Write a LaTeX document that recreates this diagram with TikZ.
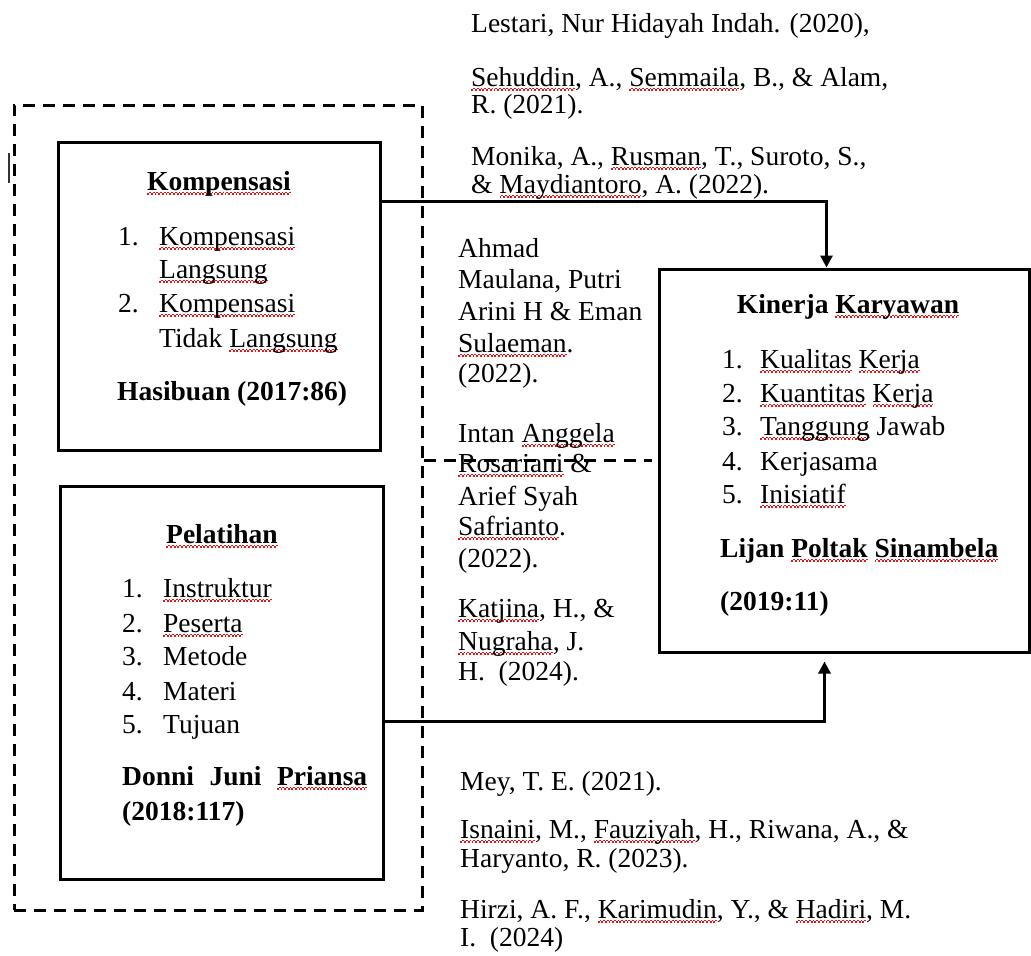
\documentclass[tikz,border=0pt]{standalone}
\usepackage{fontspec}
\setmainfont{Liberation Serif}
\usetikzlibrary{arrows.meta}
\definecolor{waveColor}{RGB}{230,20,20}
\tikzstyle{plan} = [x = 1pt, y = -1pt]
\tikzstyle{boxStyle} = [draw=black, line width=3pt, inner sep=0pt]
\tikzstyle{groupStyle} = [draw=black, line width=3pt, dash pattern=on 12pt off 8pt, inner sep=0pt]
\tikzstyle{bodyText} = [font=\fontsize{27.5}{30}\selectfont, inner sep=0pt, anchor=base west]
\tikzstyle{boldText} = [font=\fontsize{27.5}{30}\selectfont\bfseries, inner sep=0pt, anchor=base west]
\tikzstyle{titleText} = [font=\fontsize{27.5}{30}\selectfont\bfseries, inner sep=0pt, anchor=base]
\tikzstyle{arrowLine} = [line width=3pt, -{Triangle[length=12pt,width=12pt]}]
\tikzstyle{dashLine} = [line width=3pt, dash pattern=on 12pt off 8pt]
\newsavebox{\waveWord}
\newcommand{\waveMark}{\hbox{\rule{1.8pt}{1.1pt}\rule[1.6pt]{1.8pt}{1.1pt}}}
\newcommand{\spellWave}[1]{\sbox{\waveWord}{#1}\rlap{\color{waveColor}\lower4.5pt\hbox to \wd\waveWord{\xleaders\waveMark\hfill}}\usebox{\waveWord}}
\begin{document}
\begin{tikzpicture}[plan]
\useasboundingbox (0,0) rectangle (1031,956);
% boxes
\node[groupStyle, minimum width=408pt, minimum height=805pt] (group) at (218,507.5) {};
\node[boxStyle, minimum width=322pt, minimum height=308pt] (komp) at (219,296) {};
\node[boxStyle, minimum width=323pt, minimum height=393pt] (pel) at (221.5,682.5) {};
\node[boxStyle, minimum width=370pt, minimum height=383pt] (kin) at (844,460.5) {};
\draw[line width=1.2pt, black!80] (9,153) -- (9,183);

% Kompensasi
\node[titleText] (kompTitle) at (219,190) {\spellWave{Kompensasi}};
\node[bodyText] (kompNum1) at (118,245) {1.};
\node[bodyText] (kompItem1) at (159,245) {\spellWave{Kompensasi}};
\node[bodyText] (kompItem1b) at (159,278) {\spellWave{Langsung}};
\node[bodyText] (kompNum2) at (118,312) {2.};
\node[bodyText] (kompItem2) at (159,312) {\spellWave{Kompensasi}};
\node[bodyText] (kompItem2b) at (159,347) {Tidak \spellWave{Langsung}};
\node[boldText] (kompSource) at (117,400) {Hasibuan (2017:86)};

% Pelatihan
\node[titleText] (pelTitle) at (222,543) {\spellWave{Pelatihan}};
\foreach \num/\ypos/\entry in {1/597/\spellWave{Instruktur}, 2/632/\spellWave{Peserta}, 3/665/Metode, 4/700/Materi, 5/733/Tujuan} {
  \node[bodyText] (pelNum\num) at (122,\ypos) {\num.};
  \node[bodyText] (pelItem\num) at (163,\ypos) {\entry};
}
\node[boldText] (pelSource) at (122,785) {\makebox[245pt][s]{Donni Juni \spellWave{Priansa}}};
\node[boldText] (pelYear) at (122,820) {(2018:117)};

% Kinerja Karyawan
\node[titleText] (kinTitle) at (848,313) {Kinerja \spellWave{Karyawan}};
\foreach \num/\ypos/\entry in {1/368/{\spellWave{Kualitas} \spellWave{Kerja}}, 2/402/{\spellWave{Kuantitas} \spellWave{Kerja}}, 3/435/{\spellWave{Tanggung} Jawab}, 4/470/Kerjasama, 5/503/\spellWave{Inisiatif}} {
  \node[bodyText] (kinNum\num) at (722,\ypos) {\num.};
  \node[bodyText] (kinItem\num) at (760,\ypos) {\entry};
}
\node[boldText] (kinSource) at (720,557) {Lijan \spellWave{Poltak} \spellWave{Sinambela}};
\node[boldText] (kinYear) at (720,610) {(2019:11)};

% references
\foreach \num/\ypos/\entry in {1/32/{Lestari, Nur Hidayah Indah. (2020),}, 2/86/{\spellWave{Sehuddin}, A., \spellWave{Semmaila}, B., \& Alam,}, 3/113/{R. (2021).}, 4/165/{Monika, A., \spellWave{Rusman}, T., Suroto, S.,}, 5/193/{\& \spellWave{Maydiantoro}, A. (2022).}} {
  \node[bodyText] (refTop\num) at (471,\ypos) {\entry};
}
\foreach \num/\ypos/\entry in {1/257/Ahmad, 2/288/{Maulana, Putri}, 3/320/{Arini H \& Eman}, 4/352/{\spellWave{Sulaeman}.}, 5/382/{(2022).}, 6/442/{Intan \spellWave{Anggela}}, 7/472/{\spellWave{Rosariani} \&}, 8/505/{Arief Syah}, 9/535/{\spellWave{Safrianto}.}, 10/567/{(2022).}, 11/617/{\spellWave{Katjina}, H., \&}, 12/650/{\spellWave{Nugraha}, J.}, 13/680/{H.\ \ (2024).}} {
  \node[bodyText] (refMid\num) at (458,\ypos) {\entry};
}
\foreach \num/\ypos/\entry in {1/790/{Mey, T. E. (2021).}, 2/838/{\spellWave{Isnaini}, M., \spellWave{Fauziyah}, H., Riwana, A., \&}, 3/867/{Haryanto, R. (2023).}, 4/918/{Hirzi, A. F., \spellWave{Karimudin}, Y., \& \spellWave{Hadiri}, M.}, 5/946/{I.\ \ (2024)}} {
  \node[bodyText] (refBot\num) at (460,\ypos) {\entry};
}

% connectors
\draw[arrowLine] ([yshift=-61pt]komp.north east) -| ([xshift=169pt]kin.north west);
\draw[arrowLine] ([yshift=-237pt]pel.north east) -| ([xshift=167pt,yshift=-8pt]kin.south west);
\draw[dashLine] (group.east |- kin.west) -- ([xshift=-6pt]kin.west);
\end{tikzpicture}
\end{document}
